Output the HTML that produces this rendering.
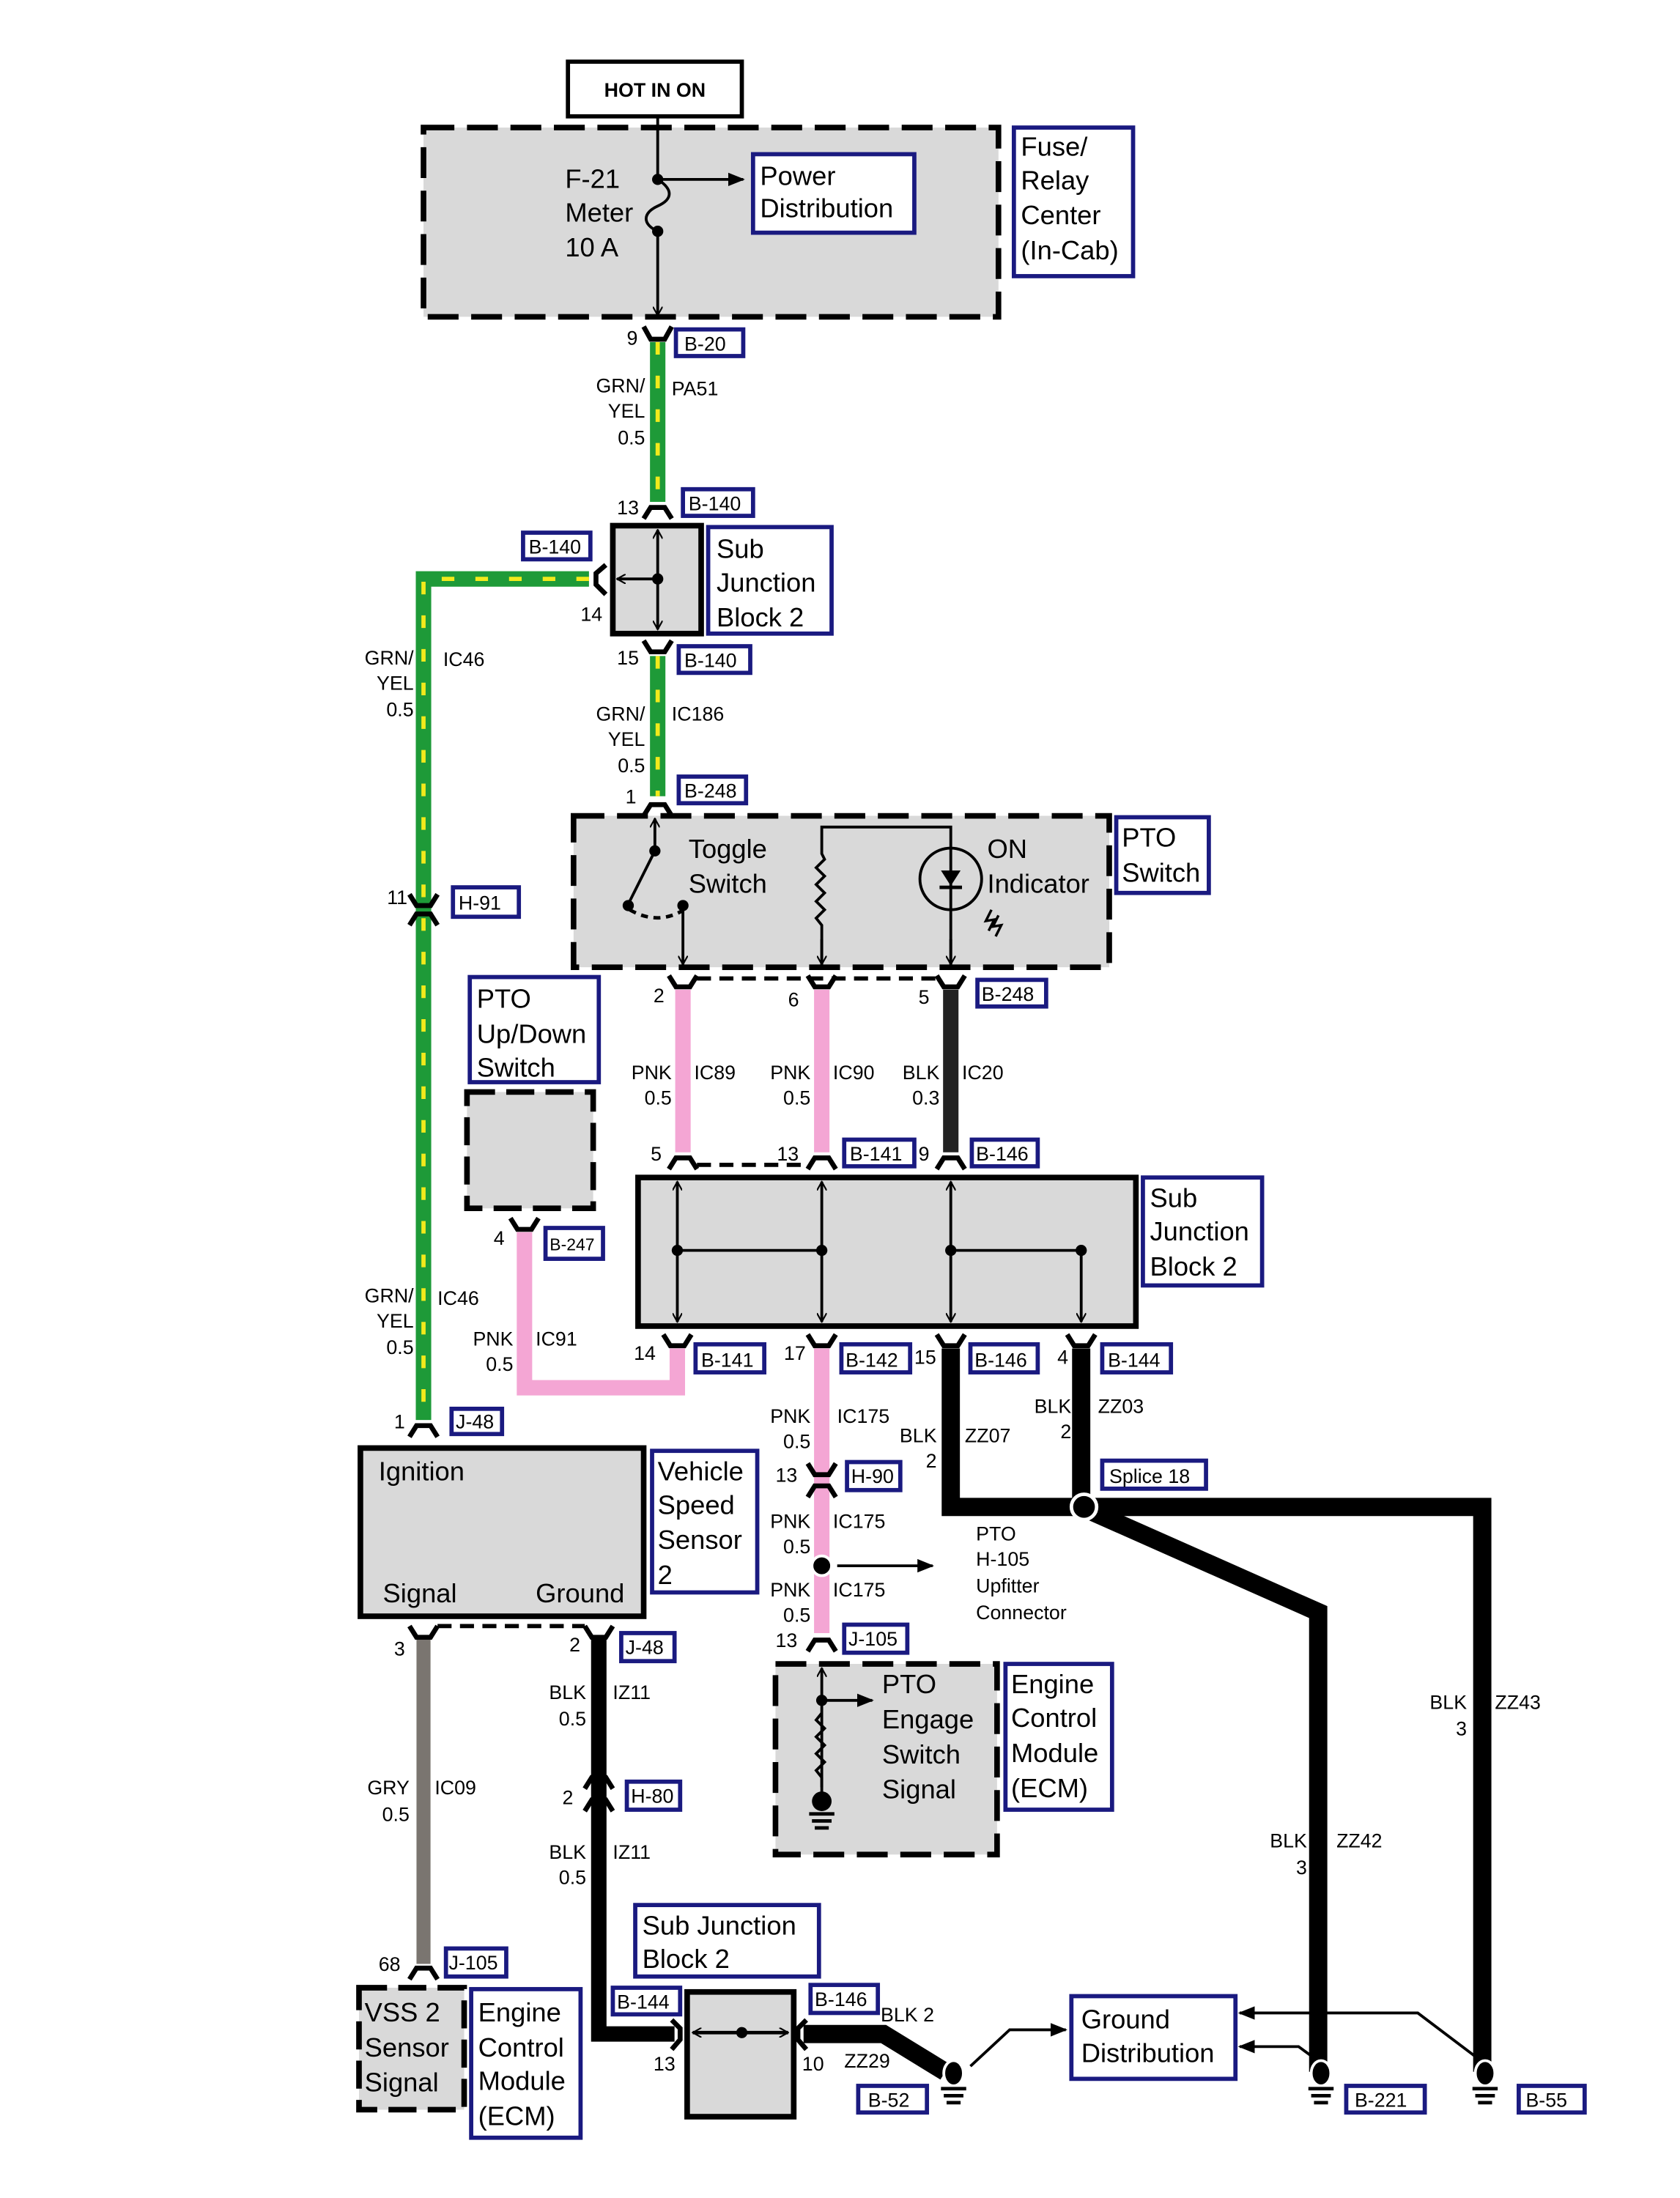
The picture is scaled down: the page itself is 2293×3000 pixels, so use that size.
<!DOCTYPE html>
<html><head><meta charset="utf-8"><style>
html,body{margin:0;padding:0;background:#fff}
svg{display:block}
text{font-family:"Liberation Sans",sans-serif;fill:#000}
.s{font-size:14px}
.L{font-size:19px}
.b{font-size:14px}
</style></head><body>
<svg width="2293" height="3000" viewBox="0 0 1198 1568" preserveAspectRatio="none" xmlns="http://www.w3.org/2000/svg">
<defs>
<marker id="ar" viewBox="0 0 10 10" refX="9" refY="5" markerWidth="7" markerHeight="7" orient="auto-start-reverse" markerUnits="userSpaceOnUse"><path d="M0,0 L9,5 L0,10" fill="none" stroke="#000" stroke-width="1.6"/></marker>
<marker id="af" viewBox="0 0 10 10" refX="9" refY="5" markerWidth="12" markerHeight="12" orient="auto" markerUnits="userSpaceOnUse"><path d="M0,1 L10,5 L0,9 z" fill="#000"/></marker>
</defs>

<rect x="405" y="44" width="124" height="39" fill="#fff" stroke="#000" stroke-width="3"/>
<text x="467" y="69" font-size="14" font-weight="bold" text-anchor="middle">HOT IN ON</text>

<rect x="302" y="91" width="410" height="135" fill="#d9d9d9" stroke="#000" stroke-width="4" stroke-dasharray="22 9"/>
<line x1="469" y1="83" x2="469" y2="128" stroke="#000" stroke-width="2"/>
<path d="M469,128 C480,135 480,142 469,147 C458,152 458,160 469,165" fill="none" stroke="#000" stroke-width="2"/>
<line x1="469" y1="165" x2="469" y2="225" stroke="#000" stroke-width="2" marker-end="url(#ar)"/>
<circle cx="469" cy="128" r="4"/><circle cx="469" cy="165" r="4"/>
<line x1="469" y1="128" x2="530" y2="128" stroke="#000" stroke-width="2" marker-end="url(#af)"/>
<text class="L" x="403" y="134">F-21</text><text class="L" x="403" y="158">Meter</text><text class="L" x="403" y="183">10 A</text>
<rect x="537" y="110" width="115" height="56" fill="#fff" stroke="#1a1a80" stroke-width="3"/>
<text class="L" x="542" y="132">Power</text><text class="L" x="542" y="155">Distribution</text>
<rect x="723" y="91" width="85" height="106" fill="#fff" stroke="#1a1a80" stroke-width="3"/>
<text class="L" x="728" y="111">Fuse/</text><text class="L" x="728" y="135">Relay</text><text class="L" x="728" y="160">Center</text><text class="L" x="728" y="185">(In-Cab)</text>

<g fill="none" stroke-linejoin="miter">
<path d="M469,244 V358 M469,468 V568 M420,413 H302 V1013" stroke="#1e9a38" stroke-width="11"/>
<path d="M469,244 V358 M469,468 V568 M420,413 H302 V1013" stroke="#f2ea1c" stroke-width="3" stroke-dasharray="9 15"/>
<path d="M487,706 V822 M586,706 V822 M586,962 V1165" stroke="#f4a6d4" stroke-width="11"/>
<path d="M374,879 V990 H483 V962" stroke="#f4a6d4" stroke-width="11"/>
<path d="M678,706 V822" stroke="#222" stroke-width="11"/>
<path d="M302,1169 V1401" stroke="#7a7570" stroke-width="10"/>
<path d="M427,1169 V1451 H481" stroke="#000" stroke-width="11"/>
<path d="M678,962 V1075 H1057 V1478" stroke="#000" stroke-width="13"/>
<path d="M771,962 V1075 L940,1150 V1478" stroke="#000" stroke-width="13"/>
<path d="M573,1451 H630 L674,1478" stroke="#000" stroke-width="13"/>
</g>
<circle cx="773" cy="1075" r="9" fill="#000" stroke="#fff" stroke-width="2.5"/>

<g fill="none" stroke="#000" stroke-width="3.5">
<path d="M459,233 L464,242 L474,242 L479,233"/>
<path d="M459,370 L464,362 L474,362 L479,370"/>
<path d="M459,457 L464,465 L474,465 L479,457"/>
<path d="M459,582 L464,574 L474,574 L479,582"/>
<path d="M432,403 L425,409 L425,417 L432,424"/>
<path d="M292,638 L297,646 L307,646 L312,638 M292,660 L297,652 L307,652 L312,660"/>
<path d="M292,1025 L297,1017 L307,1017 L312,1025"/>
<path d="M477,696 L482,704 L492,704 L497,696 M576,696 L581,704 L591,704 L596,696 M668,696 L673,704 L683,704 L688,696"/>
<path d="M477,834 L482,826 L492,826 L497,834 M576,834 L581,826 L591,826 L596,834 M668,834 L673,826 L683,826 L688,834"/>
<path d="M473,952 L478,960 L488,960 L493,952 M576,952 L581,960 L591,960 L596,952 M668,952 L673,960 L683,960 L688,952 M761,952 L766,960 L776,960 L781,952"/>
<path d="M364,869 L369,877 L379,877 L384,869"/>
<path d="M576,1044 L581,1052 L591,1052 L596,1044 M576,1068 L581,1060 L591,1060 L596,1068"/>
<path d="M576,1178 L581,1170 L591,1170 L596,1178"/>
<path d="M292,1160 L297,1168 L307,1168 L312,1160 M417,1160 L422,1168 L432,1168 L437,1160"/>
<path d="M417,1276 L422,1268 L432,1268 L437,1276 M417,1292 L422,1284 L432,1284 L437,1292"/>
<path d="M292,1412 L297,1404 L307,1404 L312,1412"/>
<path d="M479,1441 L485,1447 L485,1455 L479,1462 M575,1441 L569,1447 L569,1455 L575,1462"/>
</g>
<g stroke="#000" stroke-width="3" stroke-dasharray="10 6">
<line x1="497" y1="698" x2="668" y2="698"/>
<line x1="497" y1="831" x2="576" y2="831"/>
<line x1="312" y1="1160" x2="417" y2="1160"/>
</g>

<g class="s">
<text x="447" y="246">9</text>
<text x="460" y="280" text-anchor="end">GRN/</text><text x="460" y="298" text-anchor="end">YEL</text><text x="460" y="317" text-anchor="end">0.5</text>
<text x="479" y="282">PA51</text>
<text x="440" y="367">13</text>
<text x="414" y="443">14</text>
<text x="440" y="474">15</text>
<text x="460" y="514" text-anchor="end">GRN/</text><text x="460" y="532" text-anchor="end">YEL</text><text x="460" y="551" text-anchor="end">0.5</text>
<text x="479" y="514">IC186</text>
<text x="446" y="573">1</text>
<text x="295" y="474" text-anchor="end">GRN/</text><text x="295" y="492" text-anchor="end">YEL</text><text x="295" y="511" text-anchor="end">0.5</text>
<text x="316" y="475">IC46</text>
<text x="276" y="645">11</text>
<text x="295" y="929" text-anchor="end">GRN/</text><text x="295" y="947" text-anchor="end">YEL</text><text x="295" y="966" text-anchor="end">0.5</text>
<text x="312" y="931">IC46</text>
<text x="281" y="1019">1</text>
<text x="466" y="715">2</text><text x="562" y="718">6</text><text x="655" y="716">5</text>
<text x="479" y="770" text-anchor="end">PNK</text><text x="479" y="788" text-anchor="end">0.5</text><text x="495" y="770">IC89</text>
<text x="578" y="770" text-anchor="end">PNK</text><text x="578" y="788" text-anchor="end">0.5</text><text x="594" y="770">IC90</text>
<text x="670" y="770" text-anchor="end">BLK</text><text x="670" y="788" text-anchor="end">0.3</text><text x="686" y="770">IC20</text>
<text x="464" y="828">5</text><text x="554" y="828">13</text><text x="655" y="828">9</text>
<text x="352" y="888">4</text>
<text x="366" y="960" text-anchor="end">PNK</text><text x="366" y="978" text-anchor="end">0.5</text><text x="382" y="960">IC91</text>
<text x="452" y="970">14</text><text x="559" y="970">17</text><text x="652" y="973">15</text><text x="754" y="973">4</text>
<text x="578" y="1015" text-anchor="end">PNK</text><text x="578" y="1033" text-anchor="end">0.5</text><text x="597" y="1015">IC175</text>
<text x="668" y="1029" text-anchor="end">BLK</text><text x="668" y="1047" text-anchor="end">2</text><text x="688" y="1029">ZZ07</text>
<text x="764" y="1008" text-anchor="end">BLK</text><text x="764" y="1026" text-anchor="end">2</text><text x="783" y="1008">ZZ03</text>
<text x="553" y="1057">13</text>
<text x="578" y="1090" text-anchor="end">PNK</text><text x="578" y="1108" text-anchor="end">0.5</text><text x="594" y="1090">IC175</text>
<text x="578" y="1139" text-anchor="end">PNK</text><text x="578" y="1157" text-anchor="end">0.5</text><text x="594" y="1139">IC175</text>
<text x="553" y="1175">13</text>
<text x="696" y="1099">PTO</text><text x="696" y="1117">H-105</text><text x="696" y="1136">Upfitter</text><text x="696" y="1155">Connector</text>
<text x="281" y="1181">3</text><text x="406" y="1178">2</text>
<text x="418" y="1212" text-anchor="end">BLK</text><text x="418" y="1231" text-anchor="end">0.5</text><text x="437" y="1212">IZ11</text>
<text x="292" y="1280" text-anchor="end">GRY</text><text x="292" y="1299" text-anchor="end">0.5</text><text x="310" y="1280">IC09</text>
<text x="401" y="1287">2</text>
<text x="418" y="1326" text-anchor="end">BLK</text><text x="418" y="1344" text-anchor="end">0.5</text><text x="437" y="1326">IZ11</text>
<text x="270" y="1406">68</text>
<text x="466" y="1477">13</text><text x="572" y="1477">10</text>
<text x="628" y="1442">BLK 2</text><text x="602" y="1475">ZZ29</text>
<text x="1046" y="1219" text-anchor="end">BLK</text><text x="1046" y="1238" text-anchor="end">3</text><text x="1066" y="1219">ZZ43</text>
<text x="932" y="1318" text-anchor="end">BLK</text><text x="932" y="1337" text-anchor="end">3</text><text x="953" y="1318">ZZ42</text>
</g>

<g fill="#fff" stroke="#1a1a80" stroke-width="3">
<rect x="482" y="235" width="48" height="19"/>
<rect x="487" y="349" width="50" height="19"/>
<rect x="373" y="380" width="48" height="19"/>
<rect x="484" y="461" width="51" height="19"/>
<rect x="484" y="554" width="48" height="19"/>
<rect x="323" y="633" width="47" height="21"/>
<rect x="697" y="699" width="49" height="19"/>
<rect x="602" y="813" width="50" height="19"/>
<rect x="693" y="813" width="47" height="19"/>
<rect x="389" y="876" width="41" height="22"/>
<rect x="496" y="959" width="49" height="20"/>
<rect x="600" y="959" width="49" height="20"/>
<rect x="692" y="959" width="48" height="20"/>
<rect x="786" y="959" width="49" height="20"/>
<rect x="322" y="1005" width="36" height="18"/>
<rect x="786" y="1042" width="74" height="20"/>
<rect x="604" y="1043" width="38" height="20"/>
<rect x="602" y="1159" width="45" height="20"/>
<rect x="443" y="1165" width="38" height="20"/>
<rect x="447" y="1271" width="38" height="20"/>
<rect x="318" y="1390" width="43" height="20"/>
<rect x="437" y="1418" width="48" height="19"/>
<rect x="578" y="1416" width="48" height="20"/>
<rect x="612" y="1488" width="49" height="19"/>
<rect x="960" y="1488" width="56" height="19"/>
<rect x="1083" y="1488" width="47" height="19"/>
</g>
<g class="b">
<text x="488" y="250">B-20</text>
<text x="491" y="364">B-140</text>
<text x="377" y="395">B-140</text>
<text x="488" y="476">B-140</text>
<text x="488" y="569">B-248</text>
<text x="327" y="649">H-91</text>
<text x="700" y="714">B-248</text>
<text x="606" y="828">B-141</text>
<text x="696" y="828">B-146</text>
<text x="392" y="892" font-size="12">B-247</text>
<text x="500" y="975">B-141</text>
<text x="603" y="975">B-142</text>
<text x="695" y="975">B-146</text>
<text x="790" y="975">B-144</text>
<text x="325" y="1019">J-48</text>
<text x="791" y="1058">Splice 18</text>
<text x="607" y="1058">H-90</text>
<text x="605" y="1174">J-105</text>
<text x="446" y="1180">J-48</text>
<text x="450" y="1286">H-80</text>
<text x="320" y="1405">J-105</text>
<text x="440" y="1433">B-144</text>
<text x="581" y="1431">B-146</text>
<text x="619" y="1503">B-52</text>
<text x="966" y="1503">B-221</text>
<text x="1088" y="1503">B-55</text>
</g>

<rect x="437" y="375" width="63" height="77" fill="#d9d9d9" stroke="#000" stroke-width="4"/>
<line x1="469" y1="378" x2="469" y2="449" stroke="#000" stroke-width="2" marker-start="url(#ar)" marker-end="url(#ar)"/>
<line x1="469" y1="413" x2="440" y2="413" stroke="#000" stroke-width="2" marker-end="url(#ar)"/>
<circle cx="469" cy="413" r="4"/>
<rect x="505" y="376" width="88" height="76" fill="#fff" stroke="#1a1a80" stroke-width="3"/>
<text class="L" x="511" y="398">Sub</text><text class="L" x="511" y="422">Junction</text><text class="L" x="511" y="447">Block 2</text>

<rect x="409" y="582" width="382" height="108" fill="#d9d9d9" stroke="#000" stroke-width="4" stroke-dasharray="22 9"/>
<line x1="467" y1="584" x2="467" y2="607" stroke="#000" stroke-width="2" marker-start="url(#ar)"/>
<circle cx="467" cy="607" r="4"/>
<line x1="467" y1="607" x2="448" y2="645" stroke="#000" stroke-width="2"/>
<circle cx="448" cy="646" r="4"/><circle cx="487" cy="646" r="4"/>
<path d="M449,649 Q468,660 486,650" fill="none" stroke="#000" stroke-width="2.5" stroke-dasharray="5 4"/>
<line x1="487" y1="646" x2="487" y2="688" stroke="#000" stroke-width="2" marker-end="url(#ar)"/>
<text class="L" x="491" y="612">Toggle</text><text class="L" x="491" y="637">Switch</text>
<path d="M586,688 V660 l-4,-5 l6,-6 l-6,-6 l6,-6 l-6,-6 l6,-6 l-6,-6 l6,-6 l-2,-4 V590 H678 V688" fill="none" stroke="#000" stroke-width="2"/>
<line x1="586" y1="670" x2="586" y2="688" stroke="#000" stroke-width="2" marker-end="url(#ar)"/>
<line x1="678" y1="670" x2="678" y2="688" stroke="#000" stroke-width="2" marker-end="url(#ar)"/>
<circle cx="678" cy="627" r="22" fill="none" stroke="#000" stroke-width="2"/>
<path d="M671,621 H685 L678,632 z" fill="#000"/><line x1="670" y1="633" x2="686" y2="633" stroke="#000" stroke-width="2.5"/>
<path d="M707,649 l-4,8 l6,-1 l-4,8 M712,653 l-4,8 l6,-1 l-4,8" fill="none" stroke="#000" stroke-width="1.8"/>
<text class="L" x="704" y="612">ON</text><text class="L" x="704" y="637">Indicator</text>
<rect x="796" y="583" width="66" height="54" fill="#fff" stroke="#1a1a80" stroke-width="3"/>
<text class="L" x="800" y="604">PTO</text><text class="L" x="800" y="629">Switch</text>

<rect x="335" y="697" width="92" height="75" fill="#fff" stroke="#1a1a80" stroke-width="3"/>
<text class="L" x="340" y="719">PTO</text><text class="L" x="340" y="744">Up/Down</text><text class="L" x="340" y="768">Switch</text>
<rect x="333" y="779" width="90" height="83" fill="#d9d9d9" stroke="#000" stroke-width="4" stroke-dasharray="20 8"/>

<rect x="455" y="840" width="355" height="106" fill="#d9d9d9" stroke="#000" stroke-width="4"/>
<g stroke="#000" stroke-width="2" fill="none">
<line x1="483" y1="843" x2="483" y2="943" marker-start="url(#ar)" marker-end="url(#ar)"/>
<line x1="586" y1="843" x2="586" y2="943" marker-start="url(#ar)" marker-end="url(#ar)"/>
<line x1="678" y1="843" x2="678" y2="943" marker-start="url(#ar)" marker-end="url(#ar)"/>
<line x1="771" y1="892" x2="771" y2="943" marker-end="url(#ar)"/>
<line x1="483" y1="892" x2="586" y2="892"/><line x1="678" y1="892" x2="771" y2="892"/>
</g>
<circle cx="483" cy="892" r="4"/><circle cx="586" cy="892" r="4"/><circle cx="678" cy="892" r="4"/><circle cx="771" cy="892" r="4"/>
<rect x="815" y="840" width="85" height="77" fill="#fff" stroke="#1a1a80" stroke-width="3"/>
<text class="L" x="820" y="861">Sub</text><text class="L" x="820" y="885">Junction</text><text class="L" x="820" y="910">Block 2</text>

<rect x="257" y="1033" width="202" height="120" fill="#d9d9d9" stroke="#000" stroke-width="4"/>
<text class="L" x="270" y="1056">Ignition</text><text class="L" x="273" y="1143">Signal</text><text class="L" x="382" y="1143">Ground</text>
<rect x="465" y="1035" width="75" height="101" fill="#fff" stroke="#1a1a80" stroke-width="3"/>
<text class="L" x="469" y="1056">Vehicle</text><text class="L" x="469" y="1080">Speed</text><text class="L" x="469" y="1105">Sensor</text><text class="L" x="469" y="1130">2</text>

<circle cx="586" cy="1117" r="7" fill="#000" stroke="#fff" stroke-width="2"/>
<line x1="597" y1="1117" x2="665" y2="1117" stroke="#000" stroke-width="2" marker-end="url(#af)"/>

<rect x="553" y="1187" width="158" height="136" fill="#d9d9d9" stroke="#000" stroke-width="4" stroke-dasharray="22 9"/>
<line x1="586" y1="1275" x2="586" y2="1190" stroke="#000" stroke-width="2" marker-end="url(#ar)"/>
<path d="M586,1222 l-4,5 l6,6 l-6,6 l6,6 l-6,6 l6,6 l-6,6 l4,5 V1280" fill="none" stroke="#000" stroke-width="2" />
<circle cx="586" cy="1213" r="4"/>
<line x1="586" y1="1213" x2="622" y2="1213" stroke="#000" stroke-width="2" marker-end="url(#af)"/>
<circle cx="586" cy="1285" r="7"/>
<path d="M577,1294 H595 M579,1299 H593 M581,1304 H591" stroke="#000" stroke-width="2.5"/>
<text class="L" x="629" y="1208">PTO</text><text class="L" x="629" y="1233">Engage</text><text class="L" x="629" y="1258">Switch</text><text class="L" x="629" y="1283">Signal</text>
<rect x="717" y="1187" width="76" height="104" fill="#fff" stroke="#1a1a80" stroke-width="3"/>
<text class="L" x="721" y="1208">Engine</text><text class="L" x="721" y="1232">Control</text><text class="L" x="721" y="1257">Module</text><text class="L" x="721" y="1282">(ECM)</text>

<rect x="256" y="1418" width="75" height="87" fill="#d9d9d9" stroke="#000" stroke-width="4" stroke-dasharray="20 8"/>
<text class="L" x="260" y="1442">VSS 2</text><text class="L" x="260" y="1467">Sensor</text><text class="L" x="260" y="1492">Signal</text>
<rect x="336" y="1419" width="78" height="106" fill="#fff" stroke="#1a1a80" stroke-width="3"/>
<text class="L" x="341" y="1442">Engine</text><text class="L" x="341" y="1467">Control</text><text class="L" x="341" y="1491">Module</text><text class="L" x="341" y="1516">(ECM)</text>

<rect x="453" y="1359" width="131" height="51" fill="#fff" stroke="#1a1a80" stroke-width="3"/>
<text class="L" x="458" y="1380">Sub Junction</text><text class="L" x="458" y="1404">Block 2</text>
<rect x="490" y="1421" width="76" height="89" fill="#d9d9d9" stroke="#000" stroke-width="4"/>
<line x1="494" y1="1450" x2="562" y2="1450" stroke="#000" stroke-width="2.5" marker-start="url(#ar)" marker-end="url(#ar)"/>
<circle cx="529" cy="1450" r="4"/>

<g>
<ellipse cx="680" cy="1479" rx="7" ry="9" fill="#000" stroke="#fff" stroke-width="2"/>
<path d="M671,1490 H689 M673,1495 H687 M675,1500 H685" stroke="#000" stroke-width="2.5"/>
<ellipse cx="942" cy="1479" rx="7" ry="9" fill="#000" stroke="#fff" stroke-width="2"/>
<path d="M933,1490 H951 M935,1495 H949 M937,1500 H947" stroke="#000" stroke-width="2.5"/>
<ellipse cx="1059" cy="1479" rx="7" ry="9" fill="#000" stroke="#fff" stroke-width="2"/>
<path d="M1050,1490 H1068 M1052,1495 H1066 M1054,1500 H1064" stroke="#000" stroke-width="2.5"/>
</g>
<g fill="none" stroke="#000" stroke-width="2">
<path d="M692,1474 L720,1448 H760" marker-end="url(#af)"/>
<path d="M1052,1467 L1011,1436 H884" marker-end="url(#af)"/>
<path d="M937,1468 L926,1460 H884" marker-end="url(#af)"/>
</g>
<rect x="764" y="1424" width="117" height="59" fill="#fff" stroke="#1a1a80" stroke-width="3"/>
<text class="L" x="771" y="1447">Ground</text><text class="L" x="771" y="1471">Distribution</text>
</svg>
</body></html>
